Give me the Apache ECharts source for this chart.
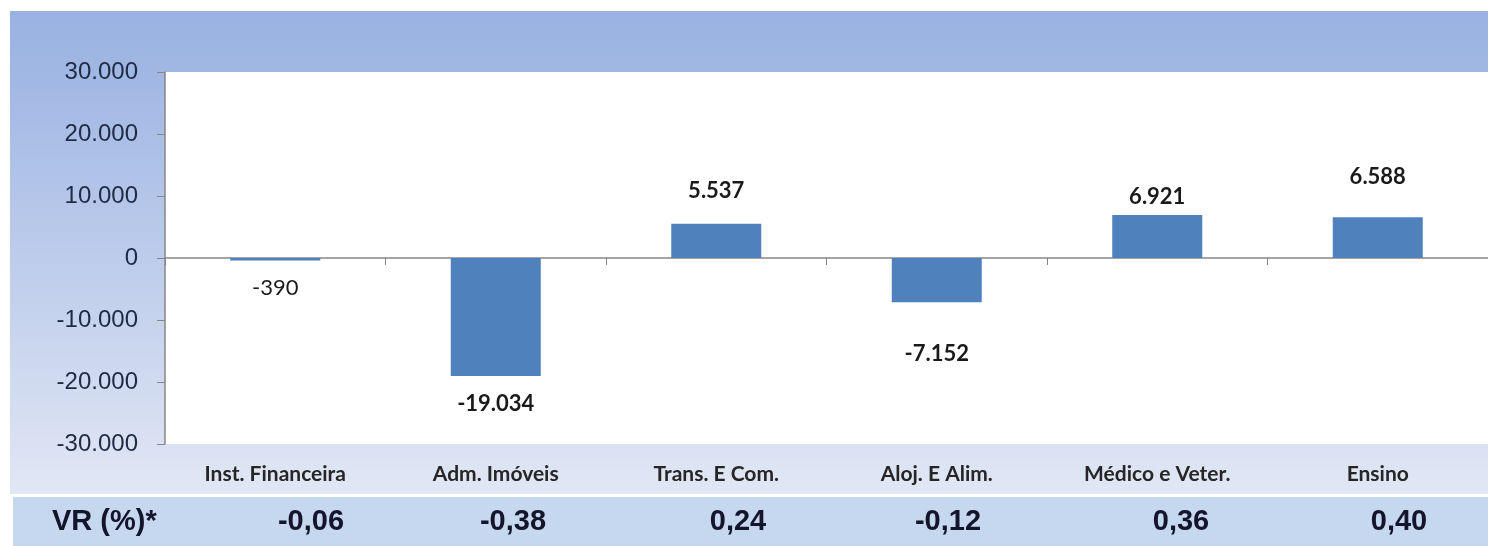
<!DOCTYPE html>
<html>
<head>
<meta charset="utf-8">
<script src="https://cdn.jsdelivr.net/npm/echarts@6/dist/echarts.min.js"></script>
<style>
  html, body { margin: 0; padding: 0; background: #fff; }
  #chart { width: 1488px; height: 546px; }
</style>
</head>
<body>
<div id="chart"></div>
<script>
// dados do gráfico
var categorias = ['Inst. Financeira', 'Adm. Imóveis', 'Trans. E Com.', 'Aloj. E Alim.', 'Médico e Veter.', 'Ensino'];
var saldo = [-390, -19034, 5537, -7152, 6921, 6588];
var vrRotulo = 'VR (%)*';
var vrValores = ['-0,06', '-0,38', '0,24', '-0,12', '0,36', '0,40'];

// ajustes de layout (rótulos movidos à mão no original)
var distRotulo = [16, 17, 22, 41, 7, 29];
var vrX = [311, 513, 738, 948, 1181, 1399];

function fmtMilhar(v) {
    var s = Math.abs(v).toString().replace(/\B(?=(\d{3})+(?!\d))/g, '.');
    return (v < 0 ? '-' : '') + s;
}

var myChart = echarts.init(document.getElementById('chart'));

var graficos = [{
    type: 'rect',
    shape: { x: 10, y: 11, width: 1478, height: 483 },
    style: {
        fill: new echarts.graphic.LinearGradient(0, 0, 0, 1, [
            { offset: 0, color: '#99b2e1' },
            { offset: 0.15, color: '#a2b8e4' },
            { offset: 1, color: '#e1e7f4' }
        ])
    },
    z: -10
}, {
    type: 'rect',
    shape: { x: 13, y: 497, width: 1475, height: 49 },
    style: { fill: '#c5d8ef' },
    z: -10
}, {
    type: 'text',
    x: 52, y: 522,
    style: {
        text: vrRotulo,
        font: 'bold 29px "Liberation Sans", Arial, sans-serif',
        fill: '#14142b',
        textVerticalAlign: 'middle'
    }
}];

vrValores.forEach(function(v, i) {
    graficos.push({
        type: 'text',
        x: vrX[i], y: 522,
        style: {
            text: v,
            font: 'bold 29px "Liberation Sans", Arial, sans-serif',
            fill: '#14142b',
            textAlign: 'center',
            textVerticalAlign: 'middle'
        }
    });
});

var option = {
    animation: false,
    backgroundColor: '#ffffff',
    graphic: graficos,
    grid: {
        left: 165,
        top: 72,
        width: 1332,
        height: 372,
        show: true,
        backgroundColor: '#ffffff',
        borderWidth: 0
    },
    xAxis: [{
        // eixo no zero, só linha e marcas
        type: 'category',
        data: categorias,
        axisLine: { onZero: true, lineStyle: { color: '#868686', width: 1.5 } },
        axisTick: { show: true, length: 7, lineStyle: { color: '#868686' } },
        axisLabel: { show: false }
    }, {
        // eixo de baixo, só os nomes
        type: 'category',
        data: categorias,
        position: 'bottom',
        axisLine: { show: false, onZero: false },
        axisTick: { show: false },
        axisLabel: {
            margin: 20,
            interval: 0,
            fontFamily: 'Lato',
            fontWeight: 'bold',
            fontSize: 21,
            color: '#262626'
        }
    }],
    yAxis: {
        type: 'value',
        min: -30000,
        max: 30000,
        interval: 10000,
        splitLine: { show: false },
        axisLine: { show: true, lineStyle: { color: '#868686', width: 1.5 } },
        axisTick: { show: true, length: 8, lineStyle: { color: '#868686' } },
        axisLabel: {
            margin: 27,
            fontFamily: '"Liberation Sans", Arial, sans-serif',
            fontSize: 24,
            color: '#1f2b45',
            formatter: fmtMilhar
        }
    },
    series: [{
        name: 'Saldo',
        type: 'bar',
        barWidth: 90,
        itemStyle: { color: '#4f81bd' },
        data: saldo.map(function(v, i) {
            return {
                value: v,
                label: {
                    show: true,
                    position: v < 0 ? 'bottom' : 'top',
                    distance: distRotulo[i],
                    fontWeight: Math.abs(v) < 1000 ? 'normal' : 'bold',
                    formatter: function(p) { return fmtMilhar(p.value); }
                }
            };
        }),
        label: {
            fontFamily: 'Lato',
            fontSize: 22,
            color: '#1a1a1a'
        }
    }]
};

myChart.setOption(option);
</script>
</body>
</html>
